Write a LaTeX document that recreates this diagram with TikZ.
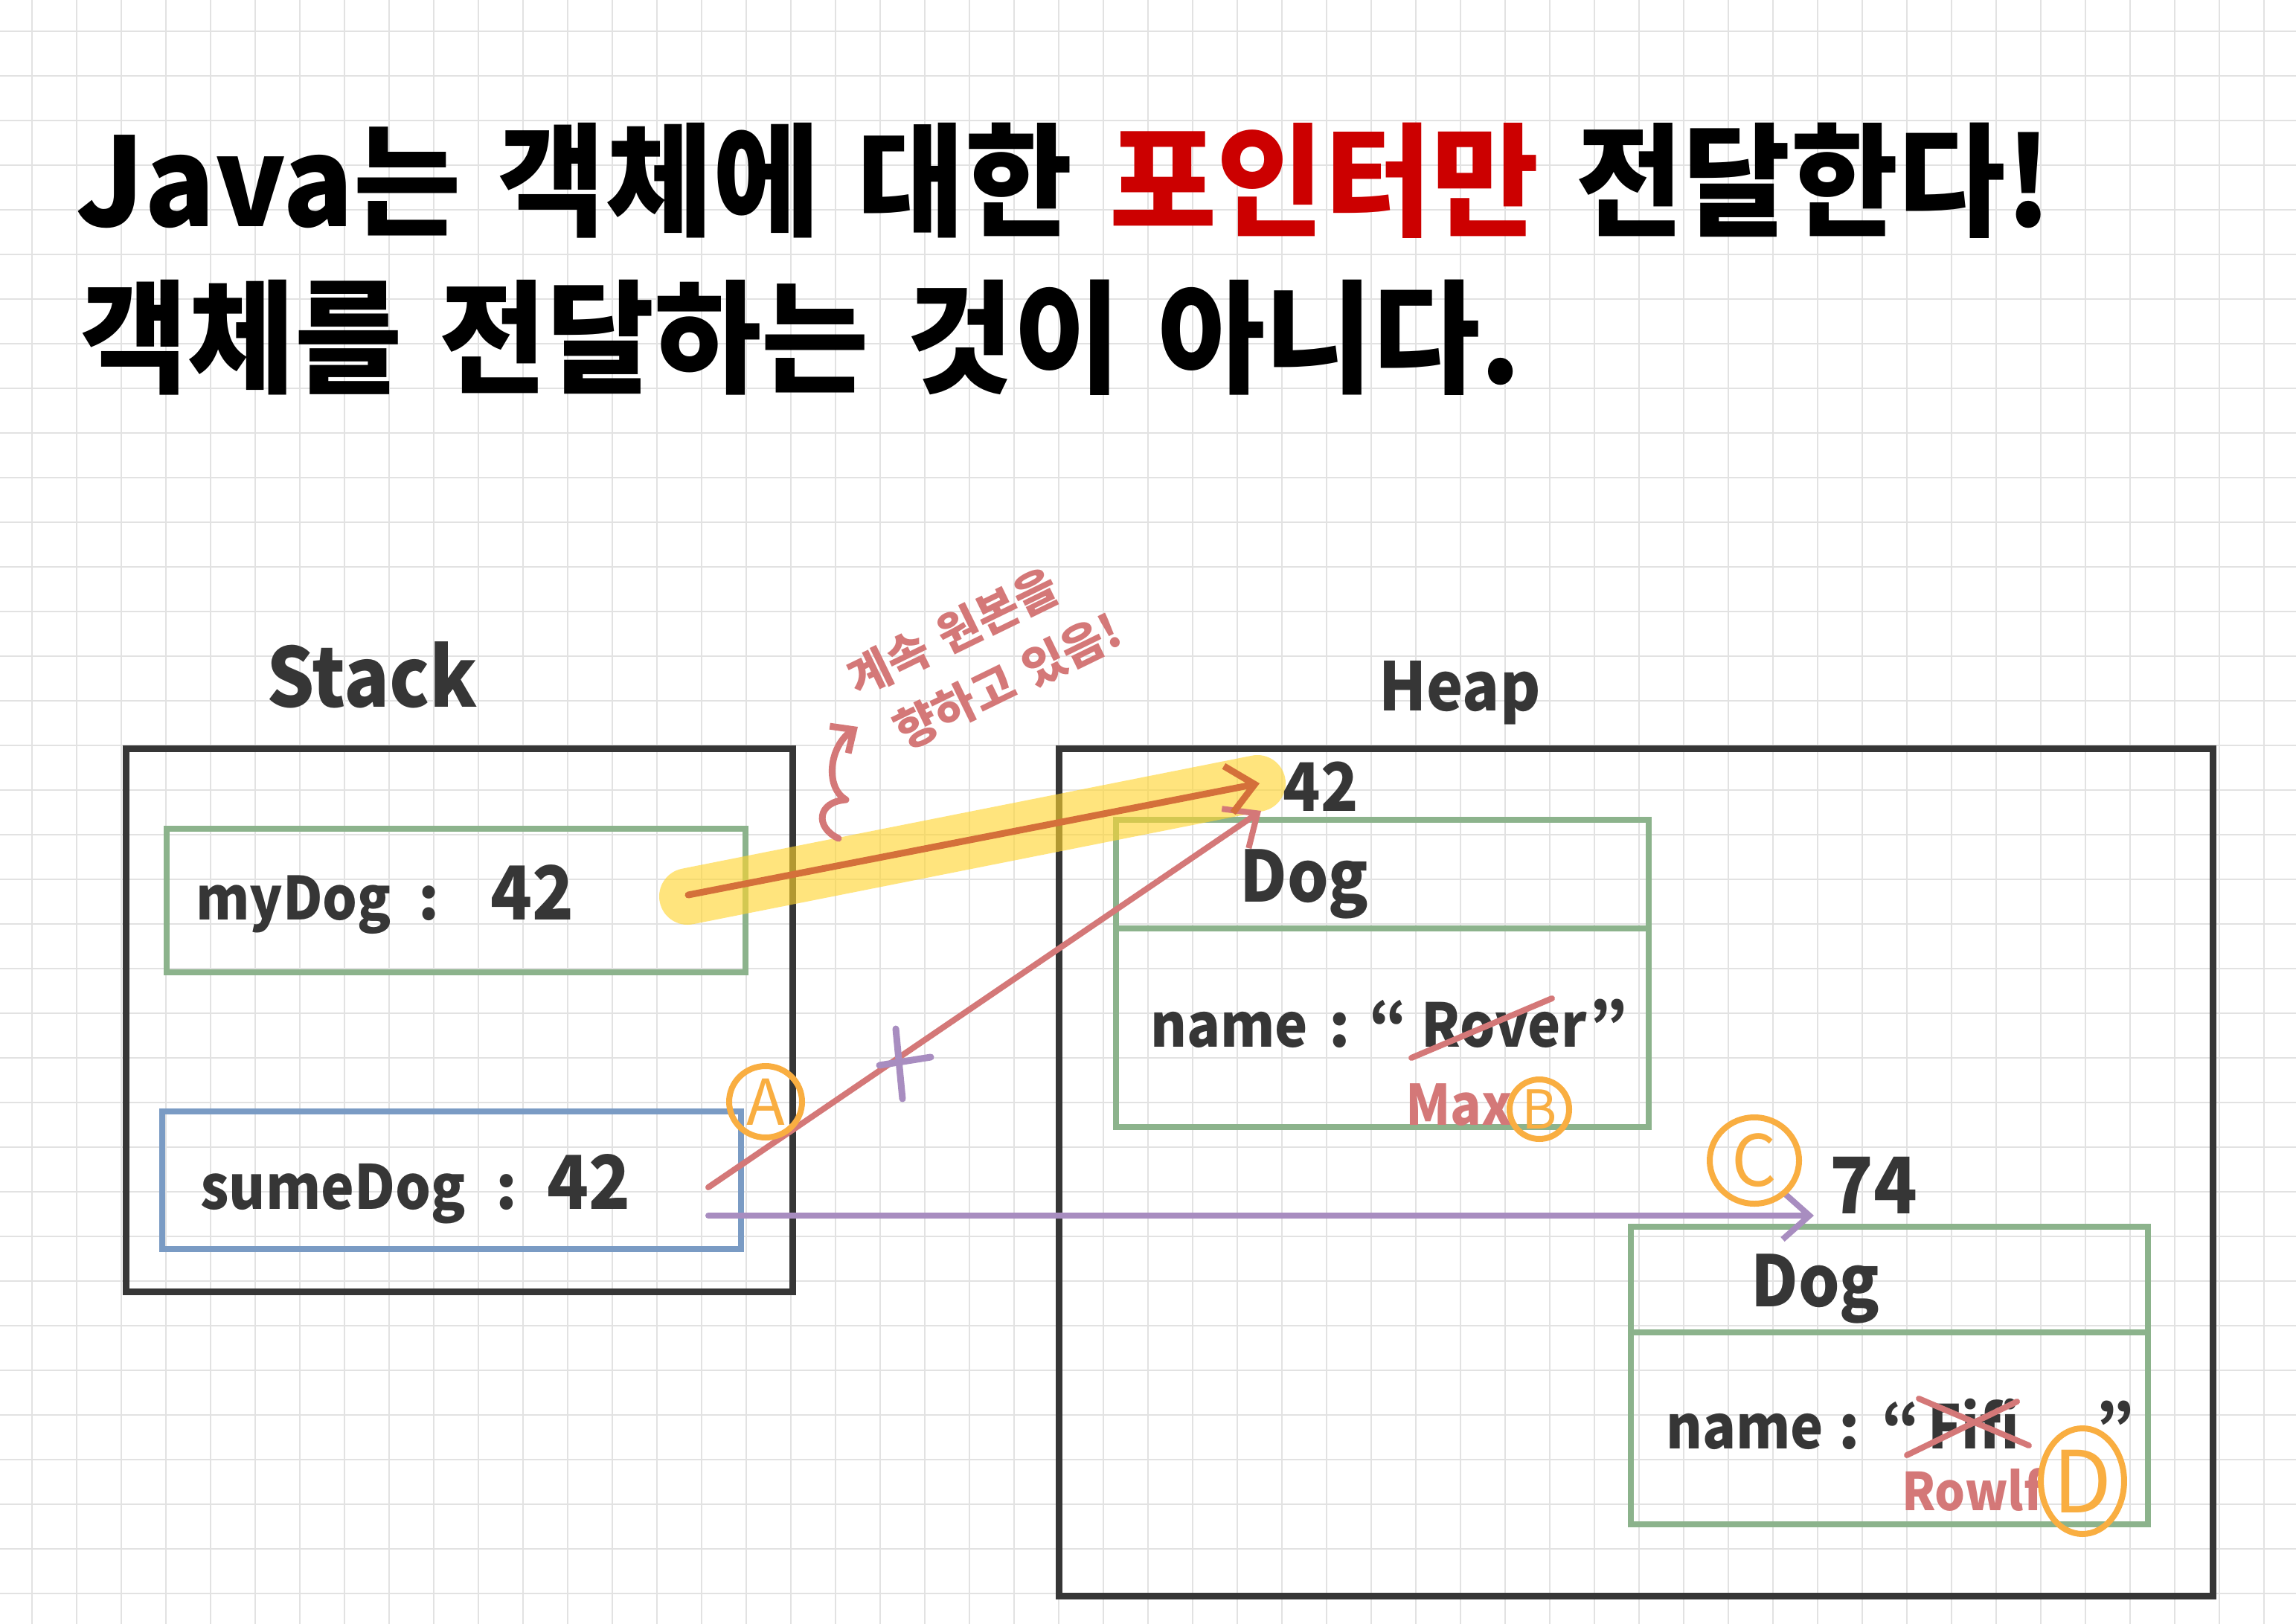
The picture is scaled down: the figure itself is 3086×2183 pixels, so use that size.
\documentclass[tikz,border=0pt]{standalone}
\usepackage{fontspec}
\usepackage{graphicx}
\usetikzlibrary{arrows.meta,shapes.geometric}
\newfontfamily\kr{Noto Sans CJK KR}
\newfontfamily\hw{Noto Sans CJK KR}
\newfontfamily\krt[WordSpace=1.4]{Noto Sans CJK KR}
\newcommand{\hwn}{\hw\bfseries}
\definecolor{ink}{HTML}{363636}
\definecolor{gridc}{HTML}{E2E2E2}
\definecolor{boxgreen}{HTML}{8CB38C}
\definecolor{boxblue}{HTML}{7A9BC4}
\definecolor{pinkc}{HTML}{D47878}
\definecolor{orangeA}{HTML}{D4703A}
\definecolor{circ}{HTML}{F9AE41}
\definecolor{purp}{HTML}{A88DC0}
\definecolor{hl}{HTML}{FFD52E}
\definecolor{titlered}{HTML}{CC0000}
\begin{document}
\begin{tikzpicture}[x=1pt,y=-1pt,
  gridline/.style={gridc, line width=2.5pt},
  memframe/.style={draw=ink, line width=9pt, inner sep=0pt, outer sep=0pt},
  slotgreen/.style={draw=boxgreen, line width=8pt, inner sep=0pt, outer sep=0pt},
  slotblue/.style={draw=boxblue, line width=8pt, inner sep=0pt, outer sep=0pt},
  hand/.style={text=ink, inner sep=0pt},
  note/.style={text=pinkc, inner sep=0pt},
  badge/.style={draw=circ, text=circ, line width=8pt, ellipse, inner sep=0pt},
  ptr/.style={line width=9pt, line cap=round, line join=round, -{Straight Barb[length=36pt,width=64pt]}},
  strike/.style={pinkc, line width=8pt, line cap=round},
  titlefont/.style={anchor=base west, inner sep=0pt, text=black, font=\krt\bfseries\fontsize{165}{180}\selectfont}
]
\useasboundingbox (0,0) rectangle (3086,2183);
\fill[white] (0,0) rectangle (3086,2183);
\foreach \gx in {43,103,...,3043} { \draw[gridline] (\gx,0) -- (\gx,2183); }
\foreach \gy in {42,102,...,2142} { \draw[gridline] (0,\gy) -- (3086,\gy); }

% title
\node[titlefont] (title1) at (102,305) {\scalebox{0.95}[1]{Java는 객체에 대한 \textcolor{titlered}{포인터만} 전달한다!}};
\node[titlefont] (title2) at (108,515) {\scalebox{0.95}[1]{객체를 전달하는 것이 아니다.}};

% frames
\node[memframe, minimum width=896pt, minimum height=730pt] (stack) at (617,1371) {};
\node[memframe, minimum width=1551pt, minimum height=1139pt] (heap) at (2198.5,1575.5) {};
\node[hand, font=\hwn\fontsize{110}{120}\selectfont, anchor=base] (stacklbl) at (500,950) {\scalebox{0.92}[1]{Stack}};
\node[hand, font=\hwn\fontsize{90}{120}\selectfont, anchor=base] (heaplbl) at (1962,955) {\scalebox{0.92}[1]{Heap}};

% stack slots
\node[slotgreen, minimum width=778pt, minimum height=193pt] (myslot) at (613,1210.5) {};
\node[slotblue, minimum width=778pt, minimum height=185pt] (sumeslot) at (607,1586.5) {};

% heap objects
\node[slotgreen, minimum width=716pt, minimum height=413pt] (dog1) at (1858,1308.5) {};
\coordinate (d1div) at (0,1248);
\draw[boxgreen, line width=8pt] (dog1.west |- d1div) -- (dog1.east |- d1div);
\node[slotgreen, minimum width=695pt, minimum height=400pt] (dog2) at (2539.5,1849) {};
\coordinate (d2div) at (0,1791);
\draw[boxgreen, line width=8pt] (dog2.west |- d2div) -- (dog2.east |- d2div);

% highlight
\draw[hl, line width=76pt, line cap=round, draw opacity=0.62] (924,1205) -- (1690,1053);

% texts
\node[hand, font=\hwn\fontsize{80}{100}\selectfont, anchor=base west] (mydog) at (263,1236) {\scalebox{0.92}[1]{myDog}\hspace{36pt}:\hspace{69pt}\scalebox{0.92}[1]{\fontsize{100}{100}\selectfont 42}};
\node[hand, font=\hwn\fontsize{82}{100}\selectfont, anchor=base west] (sumedog) at (269,1625) {\scalebox{0.92}[1]{sumeDog}\hspace{41pt}:\hspace{40pt}\scalebox{0.92}[1]{\fontsize{100}{100}\selectfont 42}};
\node[hand, font=\hwn\fontsize{95}{100}\selectfont, anchor=base] (dog1t) at (1753,1212) {\scalebox{0.92}[1]{Dog}};
\node[hand, font=\hwn\fontsize{95}{100}\selectfont, anchor=base] (dog2t) at (2440,1756) {\scalebox{0.92}[1]{Dog}};
\node[hand, font=\hwn\fontsize{81}{100}\selectfont, anchor=base west] (name1) at (1546,1407) {\scalebox{0.92}[1]{name}\hspace{28pt}:\hspace{26pt}“\hspace{19pt}\scalebox{0.92}[1]{Rover}\hspace{4pt}”};
\node[hand, font=\hwn\fontsize{81}{100}\selectfont, anchor=base west] (name2) at (2239,1947) {\scalebox{0.92}[1]{name}\hspace{20pt}:\hspace{30pt}“\hspace{11pt}\scalebox{0.92}[1]{Fifi}\hspace{103pt}”};
\node[hand, font=\hwn\fontsize{90}{100}\selectfont] (addr42) at (1775,1057) {\scalebox{0.92}[1]{42}};
\node[hand, font=\hwn\fontsize{105}{110}\selectfont] (addr74) at (2518,1593) {\scalebox{0.92}[1]{74}};
\node[note, font=\hwn\fontsize{75}{80}\selectfont] (max) at (1961,1485) {\scalebox{0.92}[1]{Max}};
\node[note, font=\hwn\fontsize{70}{80}\selectfont] (rowlf) at (2651,2003) {\scalebox{0.92}[1]{Rowlf}};

% strikes
\draw[strike] (1897,1422) -- (2086,1342);
\draw[strike] (2563,1956) -- (2711,1884);
\draw[strike] (2579,1880) -- (2727,1943);

% pointers
\coordinate (oS) at (925,1203); \coordinate (oE) at (1693,1053);
\coordinate (kS) at (952,1596); \coordinate (kE) at (1695,1090);
\coordinate (vS) at (952,1634); \coordinate (vE) at (2438,1634);
\draw[ptr, pinkc, line width=8pt] (kS) -- (kE);
\draw[ptr, orangeA] (oS) -- (oE);
\draw[ptr, purp, line width=8pt] (vS) -- (vE);

% cross on copied pointer
\draw[purp, line width=9pt, line cap=round] (1204,1383) -- (1213,1477);
\draw[purp, line width=9pt, line cap=round] (1182,1432) -- (1251,1421);

% badges
\node[badge, minimum width=98pt, minimum height=96pt, font=\hw\fontsize{85}{90}\selectfont] (bA) at (1029,1481) {A};
\node[badge, minimum width=80pt, minimum height=80pt, font=\hw\fontsize{72}{80}\selectfont] (bB) at (2069,1491) {B};
\node[badge, minimum width=120pt, minimum height=116pt, font=\hw\fontsize{95}{100}\selectfont] (bC) at (2358,1560) {C};
\node[badge, minimum width=110pt, minimum height=142pt, font=\hw\fontsize{115}{120}\selectfont] (bD) at (2799,1991) {D};

% annotation
\coordinate (cS) at (1127,1127); \coordinate (cE) at (1153,977);
\draw[pinkc, line width=9pt, line cap=round, line join=round, -{Straight Barb[length=24pt,width=44pt]}] (cS) .. controls (1095,1112) and (1098,1078) .. (1137,1075) .. controls (1108,1058) and (1115,1003) .. (cE);
\node[note, font=\kr\bfseries\fontsize{62}{91}\selectfont, rotate=26, align=left] (ann) at (1323,880) {계속 원본을\\\hspace*{26pt}향하고 있음!};
\end{tikzpicture}
\end{document}
